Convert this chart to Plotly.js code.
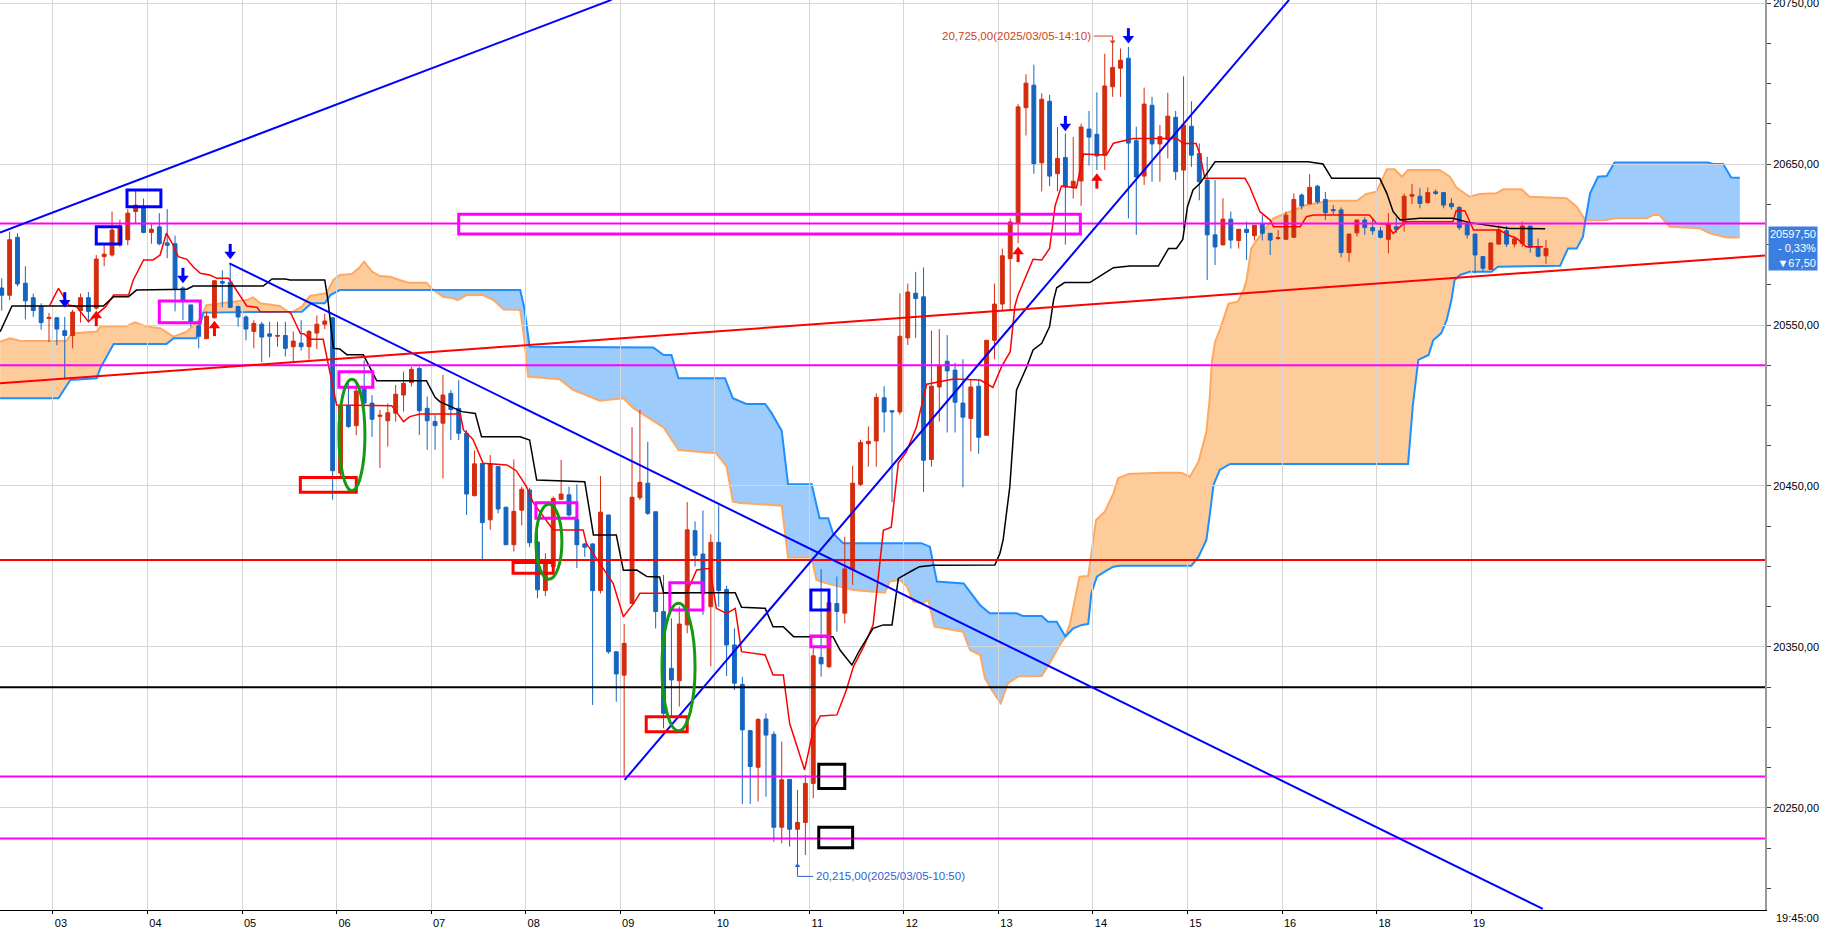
<!DOCTYPE html>
<html>
<head>
<meta charset="utf-8">
<script src="https://cdn.plot.ly/plotly-3.0.1.min.js"></script>
<style>
html, body { margin: 0; padding: 0; background: #fff; }
#chart { width: 1822px; height: 928px; }
</style>
</head>
<body>
<div id="chart"></div>
<script>
// 5-minute candles, 2025/03/05 (index = slot on the x axis)
const opens = [20573,20568.5,20604.5,20576,20567,20561.5,20554,20554.5,20546.5,20543.5,
20559,20567,20560.5,20592.5,20593.5,20600.5,20603,20620.5,20623.5,20607.5,
20611,20601,20600.5,20573,20562.5,20549.5,20541.5,20554.5,20577,20576.5,
20561.5,20555,20546,20550.5,20544.5,20543,20543.5,20536.5,20538.75,20536.5,
20545,20550.5,20554.5,20458,20500,20487.5,20510.5,20501.5,20493.25,20490.5,
20495.25,20506.5,20514.25,20523,20498.25,20490,20489,20507.5,20498.25,20482.75,
20444,20464,20429,20462,20436.75,20413.5,20435,20447.5,20415.25,20385,
20400,20441.75,20444.5,20429.25,20414,20414,20385,20432,20347,20332.5,
20377,20442.75,20451.75,20434,20372,20336.75,20329,20363.75,20422.25,20407.75,
20375,20415,20385.75,20351.25,20326.75,20298,20275.25,20305.25,20295.75,20238,
20267.75,20236.75,20241,20265.25,20343.5,20337.75,20377,20371,20398,20451,
20476.25,20478,20504.75,20496.75,20496,20542,20569.75,20567.5,20466.5,20511.5,
20527.5,20522,20501.5,20492,20512,20481.5,20540.5,20563,20591.25,20613.5,
20685,20699,20650.75,20689,20644,20654,20635.25,20639.5,20671.75,20668.5,
20655.5,20698,20709.5,20715.75,20664.5,20642.5,20686.5,20662.5,20665.25,20679,
20646.25,20673.5,20656.5,20640,20606,20599.75,20615.75,20602.5,20609.5,20605.5,
20612.75,20607,20603.75,20603.25,20604.5,20630.75,20625.25,20636.25,20628,20621.75,
20621.5,20595,20607.25,20615.25,20610.5,20608.5,20603.25,20611,20613.5,20630,
20630,20626,20632.75,20632.25,20625.5,20623,20612.75,20606.5,20592.5,20584.5,
20600.25,20608.5,20600.25,20600.75,20611.5,20598.25,20593];
const highs = [20579,20608,20607,20586.5,20569.5,20563.5,20557.5,20555,20555,20559.5,
20569.5,20570.5,20593.5,20600.5,20620.5,20615.5,20622,20634,20628.5,20613,
20619.5,20622,20605.5,20574,20562.5,20551,20558.5,20578,20584,20588.5,
20562,20556,20553,20552,20552,20552,20552,20546,20553,20547,
20556,20557,20554.5,20502,20516,20516,20528,20506.5,20497.25,20501.25,
20512.75,20521,20524,20524,20505.5,20494,20519,20509.5,20515.75,20484.75,
20472,20464,20469.25,20462,20437.25,20466.5,20449.5,20449,20424.75,20408.25,
20443.5,20466.25,20449.5,20451,20414.5,20414.5,20456.25,20432,20347,20364.25,
20486.5,20497.25,20477.5,20434,20394.75,20367.75,20375,20440,20428,20434.75,
20420,20438,20388,20361.5,20331.5,20298.5,20305.75,20308.75,20297.5,20291.25,
20267.75,20261.25,20270.5,20350.25,20398.25,20379.25,20393.75,20418.5,20462.5,20478.75,
20487,20507.5,20512,20496.75,20569.75,20575.75,20583,20585.75,20546.5,20547.5,
20543.75,20526.5,20528.75,20515.75,20515.75,20540.5,20575.75,20597.5,20616.25,20687.25,
20705.75,20711.75,20694,20693,20673,20669,20666.75,20675,20683,20694.5,
20718.5,20725,20721.75,20722.75,20673.25,20697.5,20691.75,20674.25,20694.25,20683,
20704.5,20689,20662.75,20654.5,20640,20628.75,20620.5,20609.5,20614.25,20612,
20618.25,20607,20609,20620.5,20631.75,20631.75,20643.75,20637,20632.75,20624.5,
20623,20606.5,20615.25,20617,20616.25,20611,20619.5,20617,20631.75,20637.5,
20635,20635.5,20634.25,20632.75,20628.75,20624,20614.25,20606.5,20592.5,20601,
20612,20611.5,20605,20614.25,20611.5,20603.75,20602.75];
const lows = [20559,20565.5,20574,20553.5,20555,20547,20539.5,20537.5,20517,20535.5,
20551.5,20551.5,20559.5,20586.5,20592.5,20598.5,20599.5,20613,20607,20600.5,
20599.5,20591.5,20558.5,20553,20549,20535.5,20541.5,20554,20561,20560.5,
20549,20540.5,20535.5,20527,20530,20536.5,20530.5,20527,20534,20528.5,
20535,20547.5,20441.5,20456,20486,20481.5,20499,20480.5,20461.25,20474.5,
20490,20496.25,20511.75,20481.75,20472.5,20472.5,20454.75,20478.5,20478.5,20432,
20443.5,20404,20422.75,20433,20413.5,20409.25,20425.5,20412,20380.25,20381.75,
20395.75,20441.25,20431,20399,20406,20314,20383.25,20345.75,20316,20270,
20377,20441.25,20432,20361.5,20299.5,20306.75,20313,20358.5,20400,20370,
20338,20375,20332,20323.25,20252.5,20252.5,20254,20257,20229,20228,
20226,20215,20220.75,20256,20331.5,20336.75,20359.5,20364.75,20388.5,20450,
20462,20462,20483.25,20440,20494.25,20537.5,20542,20446.25,20462,20490,
20483.25,20483.25,20449.25,20471.5,20470,20481.5,20528.75,20558.5,20559.75,20600.75,
20667.75,20644,20633,20636.25,20633,20600,20628.5,20624,20649,20646.25,
20646.25,20691.75,20691.75,20616.25,20606,20637,20639,20639,20653.5,20640,
20610,20648.25,20627.5,20578,20587.25,20599.75,20597.5,20597.5,20590.5,20602.5,
20602.5,20593.5,20602.75,20602.75,20604.5,20621.75,20625.25,20625.25,20615.25,20619,
20592,20589.25,20605,20606,20606,20603.75,20594.5,20607,20608,20625.25,
20622.5,20625.5,20630.75,20622.5,20621.75,20609,20603.75,20582,20583,20584.25,
20599.75,20598.5,20598.25,20598.5,20595,20592,20588];
const closes = [20568.5,20603,20575.5,20565,20559,20551.5,20554.75,20547.5,20543.5,20558,
20567,20558.5,20591,20594,20609,20611,20619.5,20624.5,20607.5,20609.5,
20600.5,20599.5,20572.5,20565.5,20551,20543,20555.5,20577.5,20576,20561,
20555,20547.5,20551,20542.5,20543,20543.5,20535.5,20540,20536.5,20546,
20550.5,20552.5,20459.5,20500,20487,20509,20501.5,20491.5,20494,20495.5,
20507,20513.75,20522.5,20496.75,20490.5,20487.5,20506.5,20497.5,20482.75,20445,
20463.75,20427.25,20463.75,20435.75,20413.5,20434.25,20448,20414.75,20385.5,20404,
20442.25,20445,20432,20413.5,20412,20385,20433.75,20347,20333.25,20352.25,
20443,20452.25,20433,20372,20308.75,20329.5,20364.25,20422.75,20407,20383.25,
20415,20385,20351.25,20327.5,20298.5,20275.75,20305,20295.25,20238,20267.5,
20236.75,20241,20265.25,20344.5,20339.5,20377.5,20372,20398.5,20451.75,20477,
20477.75,20505,20496,20496,20543,20570.5,20566.5,20466,20512,20524.75,
20521.5,20502,20492.75,20511.5,20480.25,20540.5,20563,20593,20614,20685.5,
20700.25,20650.25,20690.25,20642.5,20653.5,20635.75,20639.25,20673,20666.75,20655,
20698.5,20710,20714.5,20663,20642,20687.25,20662.5,20667,20679.75,20645.25,
20674.25,20655.5,20639,20606,20598.5,20615.75,20602.75,20609.5,20607.5,20612,
20607,20602.75,20604.25,20618.25,20628,20624,20635.5,20626.5,20619.75,20621,
20595,20606.5,20615.25,20610.5,20608.5,20604.5,20612.75,20609.5,20630,20631,
20625.5,20632.25,20631.75,20624.5,20623.5,20610.5,20606,20593.5,20585.25,20601,
20609,20600.25,20603.5,20611.5,20598.25,20592.75,20597.5];

// hour labels and the slot of each hour's first candle
const hourLabels = ['03','04','05','06','07','08','09','10','11','12','13','14','15','16','18','19'];
const hourFirstCandle = [7,19,31,43,55,67,79,91,103,115,127,139,151,163,175,187];

// ichimoku lines: [slot, price]
const tenkan = [[6.1,20562.4],[7.2,20572.8],[8.5,20562.4],[9.5,20561.4],[11,20552.1],[13.2,20561.4],[14.2,20568.6],[16.1,20568.6],[16.7,20578],[18,20590.4],[19.2,20590.4],[20.1,20593.5],[20.9,20607],[21.6,20601.1],[22.4,20592.5],[23.5,20590.8],[24.3,20586.2],[25.2,20582.1],[26.4,20581.1],[27.3,20579],[28.8,20579],[30.2,20568.6],[31.1,20561.8],[32.4,20561],[32.8,20558.3],[36.6,20558.3],[37,20554.1],[37.9,20544.8],[38.4,20544.4],[39.1,20541.1],[40.8,20541.1],[41.5,20524],[42.5,20500.3],[49.5,20499.9],[51,20490],[51.8,20493.1],[53.1,20494.7],[58.2,20494.7],[58.6,20484.8],[59.8,20479],[61.1,20464.1],[64.1,20463.1],[65.3,20459.5],[66.6,20449.6],[67.5,20439.3],[70,20422.7],[73.8,20422.7],[74.2,20414.4],[77.6,20389.5],[78.9,20368.8],[80.2,20377.1],[81,20383.3],[86.9,20383.3],[88.2,20397.8],[89.9,20398.9],[90.7,20374],[92,20370.9],[93.1,20374],[93.9,20347.1],[96.9,20345],[97.9,20332.6],[99.2,20332.6],[100,20302.6],[101.9,20273.6],[103,20298.4],[103.9,20307.1],[106,20307.8],[107.2,20323.3],[108.1,20337.8],[109.4,20350.2],[110.6,20363.7],[111.9,20422.5],[112.9,20424.4],[113.8,20464.4],[114.8,20471],[116.1,20486.6],[117.4,20513.2],[120.8,20516.5],[124.2,20515.8],[125.8,20511.3],[126.9,20524.1],[128,20533.4],[128.6,20562],[129,20568.6],[129.9,20579.7],[130.9,20590.8],[132,20590.4],[133,20597.5],[133.7,20624.1],[134.5,20636.3],[136.4,20635.2],[137.3,20656.2],[140.2,20655.6],[141.1,20662.9],[143.6,20665.9],[149.1,20665.9],[150,20662.8],[151.6,20662.8],[152.1,20655.6],[152.7,20641.1],[157.8,20641.1],[158.4,20635.9],[159.7,20620.4],[161,20615.2],[161.4,20611.1],[164.8,20611.1],[165.6,20617.3],[166.5,20618.3],[173.6,20618.3],[174.5,20613.1],[175.8,20612.7],[176.6,20606.9],[177.5,20611.1],[178.3,20614.2],[184.2,20614.2],[184.6,20621],[185.7,20621],[186.8,20609],[190.1,20609],[191.2,20605.9],[192.3,20603.8],[193.5,20598.6],[195.6,20598.6]];
const kijun = [[-0.2,20545.9],[1.3,20561.8],[12.9,20561.8],[14.2,20567.6],[16.1,20567.6],[17.1,20571.7],[23.5,20572.2],[24.3,20574.2],[33.2,20574.2],[34.3,20578.6],[36,20578.6],[36.6,20578],[41,20578],[41.4,20565.5],[42.1,20535.5],[42.9,20535.1],[43.8,20531.6],[45.9,20531.5],[47.6,20515.3],[53.9,20515.4],[55,20505.1],[55.6,20502.4],[58.4,20496.2],[60.1,20495.1],[60.9,20480.6],[65.8,20480.6],[67,20478.6],[67.9,20453.7],[74,20452.7],[75.1,20419.6],[78,20419.6],[78.9,20397.6],[80.6,20397.8],[81.9,20393.7],[83.5,20393.5],[84,20383.7],[93.1,20383.7],[93.9,20374.6],[96.9,20374],[97.9,20362.6],[99.2,20362.6],[100.5,20356.4],[105.5,20356.4],[106.4,20348.1],[107.9,20338.8],[108.9,20348.1],[110.6,20361.6],[111.9,20363.7],[113,20363.7],[113.8,20392.6],[115.7,20397.8],[116.5,20399.9],[118.2,20400.7],[126.05,20400.9],[126.7,20408.2],[127.1,20416.5],[127.95,20449.6],[128.4,20478.6],[128.8,20509.6],[130.1,20524.1],[130.9,20534.5],[132,20538.6],[133,20549],[133.5,20565.5],[133.9,20573.1],[134.9,20576.4],[138.1,20576.4],[139.4,20580.4],[141.1,20585.6],[143.2,20586.6],[146.8,20586.6],[148.1,20597.6],[149.1,20597.6],[149.9,20603.2],[150.5,20623.5],[151.2,20633.9],[152.1,20638],[154,20651.4],[165.8,20651.4],[167.7,20650],[168.8,20641.1],[174.9,20641.1],[175.8,20631.8],[176.6,20620.4],[177.5,20615.2],[180,20616.3],[184.2,20616.3],[186.3,20613.6],[191.4,20610],[195.9,20609.8]];
const spanA = [[-0.2,20539.6],[1.05,20541.7],[2.3,20540.3],[8.2,20540],[8.9,20544.8],[12.05,20545.9],[12.5,20549],[15.9,20549.4],[16.9,20551.7],[18.4,20549],[20.1,20548],[21.8,20542.8],[23.5,20545.9],[25.2,20554.1],[26,20562.4],[31.1,20565.5],[31.9,20567.2],[32.8,20563.5],[35.3,20561.8],[36.6,20557.3],[38.1,20561.4],[39.1,20568],[41.2,20569.7],[42.1,20578],[42.9,20581.1],[44.4,20581.7],[45.3,20585.2],[46,20589.3],[47,20583.1],[48,20580.4],[49.3,20580],[50.5,20578],[51.6,20576.3],[53.9,20576.3],[54.8,20571.7],[56,20567.6],[57.3,20566.6],[57.9,20565.5],[59,20568.6],[61.1,20568.6],[62.4,20565.5],[63.7,20559.7],[65.8,20559.3],[66.3,20542.8],[66.8,20518],[70.8,20516.3],[72.5,20509.7],[75.9,20503],[78.9,20504.5],[80.2,20498.2],[84,20486.4],[85.9,20472.4],[90.7,20470.3],[92,20462],[92.8,20440.3],[93.7,20439.5],[99,20437.8],[99.8,20405.6],[102.8,20405.6],[103.4,20391.6],[104.7,20389.5],[108.1,20385.4],[112.1,20383.7],[112.7,20390.6],[114,20391.6],[114.9,20387.5],[115.7,20378.2],[116.8,20377.1],[117.6,20379.2],[118.4,20362.6],[122,20359.5],[122.9,20348.1],[124.2,20345],[124.8,20330.5],[125.8,20322.2],[126.8,20315],[127.7,20327.4],[129,20331.6],[132,20332],[133,20339.9],[134.3,20351.2],[135,20356.5],[135.6,20364.7],[136.8,20393.7],[137.9,20394.1],[138.3,20408.2],[138.9,20428.9],[140,20434],[141.1,20445.4],[141.7,20454.8],[143,20457.5],[147,20458.3],[149.7,20458.3],[150.8,20455.8],[151.9,20465.1],[152.9,20483.8],[153.3,20503.4],[153.6,20527.2],[154,20539.6],[154.6,20546.9],[155.7,20563.3],[156.9,20564.5],[157.6,20571.7],[158,20577.9],[158.6,20597.6],[159.3,20602.8],[161.4,20616.3],[165.6,20624.5],[168.6,20627.2],[172,20627.2],[173.2,20631.4],[174.5,20632.8],[175.8,20646.7],[176.8,20646.7],[177.7,20642.1],[178.5,20646.3],[182.5,20646.3],[183.8,20642.1],[184.6,20635.5],[186.3,20629.7],[187.6,20631.4],[189.7,20631.8],[190.6,20634.3],[192.9,20634.3],[193.9,20629.7],[198.6,20628.7],[199.9,20623.5],[201,20615],[203.7,20615.2],[204.7,20616.3],[208.8,20616.3],[209.6,20618.3],[210.4,20618.3],[211.3,20613.1],[211.7,20611.1],[215.5,20610.1],[216.8,20607],[218.9,20604.4],[220.6,20604.4]];
const spanB = [[-0.2,20504.5],[7.2,20504.5],[8.7,20515.8],[12.05,20516.9],[12.5,20523.1],[14.2,20538.2],[20.9,20538.2],[21.8,20541.7],[24.7,20541.7],[25.6,20557.7],[38.1,20558.3],[39.3,20563.5],[41,20563.5],[41.7,20568.6],[42.9,20571.7],[54.8,20571.7],[65.8,20571.7],[66.3,20561.4],[67,20536.5],[82.7,20536.1],[84,20531.4],[85,20531.4],[85.9,20516.9],[91.8,20516.9],[92.8,20504.5],[94.5,20501],[96.9,20501],[97.7,20495.4],[99,20484.3],[99.8,20451.1],[102.8,20451.1],[103.8,20430],[104.9,20430],[105.5,20420.6],[106.8,20414.5],[116.7,20414.5],[117.8,20412.3],[118.7,20390.6],[122.1,20389.5],[124.15,20376.1],[125.4,20370.9],[128.8,20370.9],[129.6,20369.3],[132,20369.3],[132.8,20365.7],[133.9,20365.7],[135,20356.5],[136,20361.6],[137.1,20363.7],[137.9,20364.3],[138.3,20383.3],[139,20393.7],[140.2,20397.4],[141.1,20399.9],[141.9,20400.5],[151,20400.5],[151.9,20406.1],[152.9,20416.5],[153.3,20431],[153.8,20450.6],[154.6,20460],[155.9,20463.7],[178.5,20463.7],[179.1,20500],[179.8,20528.3],[181.1,20531.4],[181.7,20540.7],[182.7,20544.8],[183.4,20553.1],[184,20565.5],[184.4,20577.9],[185.1,20581.1],[186.3,20583.1],[189.1,20583.1],[189.9,20586.2],[197.8,20586.8],[198.8,20597.6],[199.9,20597.6],[200.7,20604.9],[201,20615],[201.6,20631.8],[202.6,20642.1],[203.7,20642.5],[204.7,20651],[216.6,20651],[217.2,20650],[218.5,20650],[219.5,20641.7],[220.6,20641.5]];
// slots where the two spans cross (cloud colour changes)
const cloudBreaks = [-1, 54.8, 135, 201, 222];

// drawn levels and trend lines
const levelPrices = [20613, 20525, 20404, 20325, 20269.5, 20231];
const trendLines = [[-0.22,20607.5,77.4,20752],[28.9,20588.3,195.6,20187.3],[79.06,20267.4,163.4,20752],[-0.22,20513.8,223.8,20593.2]];
// marked boxes [x0, x1, p0, p1] and ellipses
const boxes = [[12,15.1,20600.3,20611.1],[15.9,20.2,20623.5,20633.9],[20,25.2,20551.4,20564.9],[42.8,47.1,20511.3,20521],
  [37.9,45,20446.1,20455.2],[67.8,73,20429.9,20439.6],[64.9,70,20395.8,20402.4],[84.8,89,20373,20389.9],
  [81.8,87,20297.4,20306.7],[102.7,105,20373,20385.4],[102.7,105,20350.2,20356.8],[103.7,107,20262,20277.1],
  [103.7,108,20225.3,20238],[58,136.9,20606.6,20618.8]];
const ellipses = [[42.8,46.1,20447.1,20516.3],[67.8,71.1,20392,20438.6],[83.8,88,20298,20377.1]];
const downArrowX = [8, 23, 29, 135, 143];
const downArrowY = [20565.5, 20580.6, 20595.5, 20675, 20729.5];
const upArrowX = [12, 27, 129, 139];
const upArrowY = [20554.2, 20548, 20594, 20639.6];

const highMark = {slot: 141, price: 20725, text: '20,725,00(2025/03/05-14:10)'};
const lowMark = {slot: 101, price: 20215, text: '20,215,00(2025/03/05-10:50)'};
const lastPrice = {price: 20597.5, text: '20597,50<br>- 0,33%<br>▼67,50', time: '19:45:00'};

// styles
const FONT = '"Liberation Sans", Arial, sans-serif';
const UP = '#d42c0e';
const DOWN = '#1565c0';
const levelColors = ['#ff00ff', '#ff00ff', '#ff0000', '#000000', '#ff00ff', '#ff00ff'];
const trendColors = ['#0000ff', '#0000ff', '#0000ff', '#ff0000'];
const boxColors = ['#0000ff','#0000ff','#ff00ff','#ff00ff','#ff0000','#ff00ff','#ff0000','#ff00ff',
  '#ff0000','#0000ff','#ff00ff','#000000','#000000','#ff00ff'];
const cloudColors = ['#fecc9b', '#9ccbfc', '#fecc9b', '#9ccbfc'];

const slots = opens.map((v, i) => i);
const xs = pts => pts.map(p => p[0]);
const ys = pts => pts.map(p => p[1]);
const pathOf = (pts, close) => pts.map((p, k) => (k ? 'L' : 'M') + p[0] + ',' + p[1]).join(' ') + (close ? ' Z' : '');

const shapes = [];
// cloud: drawn under the grid and the candles
for (let k = 0; k < cloudBreaks.length - 1; k++) {
    const a = spanA.filter(p => p[0] >= cloudBreaks[k] && p[0] <= cloudBreaks[k + 1]);
    const b = spanB.filter(p => p[0] >= cloudBreaks[k] && p[0] <= cloudBreaks[k + 1]).reverse();
    shapes.push({type: 'path', xref: 'x', yref: 'y', layer: 'below', path: pathOf(a.concat(b), true),
        fillcolor: cloudColors[k], line: {width: 0}});
}
shapes.push({type: 'path', xref: 'x', yref: 'y', layer: 'below', path: pathOf(spanA, false), line: {color: '#ffa860', width: 2}});
shapes.push({type: 'path', xref: 'x', yref: 'y', layer: 'below', path: pathOf(spanB, false), line: {color: '#1e8fff', width: 2}});

levelPrices.forEach((p, k) => shapes.push({
    type: 'line', xref: 'paper', yref: 'y', x0: 0, x1: 1, y0: p, y1: p,
    line: {color: levelColors[k], width: 2}, layer: 'above'
}));
trendLines.forEach((t, k) => shapes.push({
    type: 'line', xref: 'x', yref: 'y', x0: t[0], y0: t[1], x1: t[2], y1: t[3],
    line: {color: trendColors[k], width: 2}, layer: 'above'
}));
boxes.forEach((b, k) => shapes.push({
    type: 'rect', xref: 'x', yref: 'y', x0: b[0], x1: b[1], y0: b[2], y1: b[3],
    line: {color: boxColors[k], width: 3}, layer: 'above'
}));
ellipses.forEach(e => shapes.push({
    type: 'circle', xref: 'x', yref: 'y', x0: e[0], x1: e[1], y0: e[2], y1: e[3],
    line: {color: '#139a13', width: 3}, layer: 'above'
}));
// leader lines of the high / low labels
shapes.push({type: 'path', xref: 'x', yref: 'y', layer: 'above', line: {color: '#d2401e', width: 1},
    path: 'M ' + (highMark.slot - 2.4) + ',' + (highMark.price + 4.5) + ' L ' + highMark.slot + ',' + (highMark.price + 4.5) + ' L ' + highMark.slot + ',' + (highMark.price + 1)});
shapes.push({type: 'path', xref: 'x', yref: 'y', layer: 'above', line: {color: '#2a62d6', width: 1},
    path: 'M ' + lowMark.slot + ',' + (lowMark.price - 1) + ' L ' + lowMark.slot + ',' + (lowMark.price - 7.5) + ' L ' + (lowMark.slot + 2) + ',' + (lowMark.price - 7.5)});

const traces = [];
traces.push({
    type: 'candlestick', x: slots, open: opens, high: highs, low: lows, close: closes,
    increasing: {line: {color: UP, width: 1}, fillcolor: UP},
    decreasing: {line: {color: DOWN, width: 1}, fillcolor: DOWN},
    whiskerwidth: 0, hoverinfo: 'skip'
});
traces.push({type: 'scatter', mode: 'lines', x: xs(tenkan), y: ys(tenkan), line: {color: '#ff0000', width: 1.5}, hoverinfo: 'skip'});
traces.push({type: 'scatter', mode: 'lines', x: xs(kijun), y: ys(kijun), line: {color: '#000000', width: 1.5}, hoverinfo: 'skip'});

// block arrows: shaft + head
const px = 1 / 1.61;
traces.push({type: 'scatter', mode: 'markers', x: downArrowX, y: downArrowY.map(v => v + 3 * px),
    marker: {symbol: 'line-ns', size: 7, line: {color: '#0000ff', width: 3}}, hoverinfo: 'skip'});
traces.push({type: 'scatter', mode: 'markers', x: downArrowX, y: downArrowY.map(v => v - 2.5 * px),
    marker: {symbol: 'triangle-down', size: 10, color: '#0000ff', line: {width: 0}}, hoverinfo: 'skip'});
traces.push({type: 'scatter', mode: 'markers', x: upArrowX, y: upArrowY.map(v => v - 3 * px),
    marker: {symbol: 'line-ns', size: 7, line: {color: '#ff0000', width: 3}}, hoverinfo: 'skip'});
traces.push({type: 'scatter', mode: 'markers', x: upArrowX, y: upArrowY.map(v => v + 2.5 * px),
    marker: {symbol: 'triangle-up', size: 10, color: '#ff0000', line: {width: 0}}, hoverinfo: 'skip'});
// small heads of the high / low leaders
traces.push({type: 'scatter', mode: 'markers', x: [highMark.slot], y: [highMark.price + 1.5 * px],
    marker: {symbol: 'triangle-down', size: 5, color: '#d2401e'}, hoverinfo: 'skip'});
traces.push({type: 'scatter', mode: 'markers', x: [lowMark.slot], y: [lowMark.price - 1.5 * px],
    marker: {symbol: 'triangle-up', size: 5, color: '#2a62d6'}, hoverinfo: 'skip'});

const annotations = [
    {x: highMark.slot - 2.5, y: highMark.price + 4.5, xref: 'x', yref: 'y', text: highMark.text, showarrow: false,
     xanchor: 'right', yanchor: 'middle', font: {family: FONT, size: 11.5, color: '#d2401e'}},
    {x: lowMark.slot + 2.1, y: lowMark.price - 7.5, xref: 'x', yref: 'y', text: lowMark.text, showarrow: false,
     xanchor: 'left', yanchor: 'middle', font: {family: FONT, size: 11.5, color: '#2a62d6'}},
    {x: 1, y: lastPrice.price, xref: 'paper', yref: 'y', text: lastPrice.text, showarrow: false,
     xanchor: 'left', yanchor: 'middle', xshift: 3, align: 'right', bgcolor: '#3a7ee0', borderpad: 1,
     font: {family: FONT, size: 11, color: '#ffffff'}},
    {x: 1, y: 0, xref: 'paper', yref: 'paper', text: lastPrice.time, showarrow: false,
     xanchor: 'left', yanchor: 'top', xshift: 9, yshift: 0, font: {family: FONT, size: 11, color: '#000'}}
];

const layout = {
    width: 1822, height: 928,
    margin: {l: 0, r: 57, t: 0, b: 18, pad: 0},
    paper_bgcolor: '#ffffff', plot_bgcolor: '#ffffff',
    showlegend: false, separators: ',.',
    font: {family: FONT, size: 11, color: '#000'},
    xaxis: {
        range: [-0.22, 223.8], tickmode: 'array',
        tickvals: hourFirstCandle.map(v => v - 0.5), ticktext: hourLabels,
        showgrid: true, gridcolor: '#d6d6d6', gridwidth: 1, zeroline: false,
        showline: true, linecolor: '#000', linewidth: 1,
        ticks: 'outside', ticklen: 3, tickcolor: '#000', ticklabelshift: 8,
        tickfont: {family: FONT, size: 11}, rangeslider: {visible: false}, fixedrange: true
    },
    yaxis: {
        side: 'right', range: [20186.6, 20751.9], tick0: 20250, dtick: 100, tickformat: '.2f',
        showgrid: true, gridcolor: '#d6d6d6', zeroline: false,
        showline: true, linecolor: '#9a9a9a', linewidth: 2,
        ticks: 'outside', ticklen: 4, tickcolor: '#444', ticklabeloverflow: 'allow',
        minor: {tick0: 20250, dtick: 25, ticks: 'outside', ticklen: 4, tickcolor: '#444', showgrid: false},
        tickfont: {family: FONT, size: 11}, fixedrange: true
    },
    shapes: shapes,
    annotations: annotations
};

Plotly.newPlot('chart', traces, layout, {displayModeBar: false, staticPlot: true});
</script>
</body>
</html>
